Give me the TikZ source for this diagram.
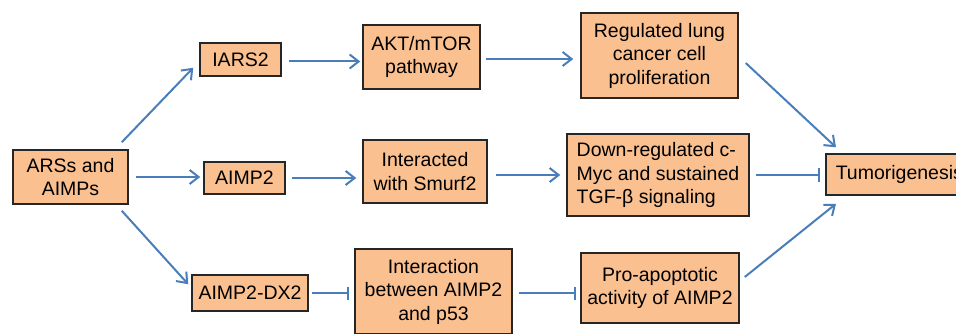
\documentclass[tikz,border=0pt]{standalone}
\usepackage{fontspec}
\setmainfont{Liberation Sans}
\usetikzlibrary{arrows.meta,calc}
\definecolor{boxfill}{HTML}{FAC090}
\definecolor{linkblue}{HTML}{4A7EBB}
\definecolor{boxline}{HTML}{262626}
\begin{document}
\begin{tikzpicture}[x=1pt,y=-1pt,
  box/.style={draw=boxline,line width=1.5pt,fill=boxfill,inner sep=0pt,align=center,font=\fontsize{19.5}{23.5}\selectfont},
  arr/.style={draw=linkblue,line width=2pt,-{Straight Barb[length=9pt,width=14pt]}},
  inh/.style={draw=linkblue,line width=2pt,-{Bar[width=13pt]}}]
\useasboundingbox (0,0) rectangle (956,334);
\clip (0,0) rectangle (956,334);
\fill[white] (0,0) rectangle (956,334);

\node[box,minimum width=115pt,minimum height=54pt] (src) at (70.5,177) {ARSs and\\AIMPs};
\node[box,minimum width=81pt,minimum height=33pt] (iars) at (240.5,59.5) {IARS2};
\node[box,minimum width=81pt,minimum height=32pt] (aimp) at (244.5,178) {AIMP2};
\node[box,minimum width=116pt,minimum height=36pt] (dx2) at (250,293) {AIMP2-DX2};
\node[box,minimum width=117pt,minimum height=64pt] (akt) at (421.5,57) {AKT/mTOR\\pathway};
\node[box,minimum width=124pt,minimum height=63pt] (smurf) at (425,171.5) {Interacted\\with Smurf2};
\node[box,minimum width=157pt,minimum height=85pt] (p53) at (433.5,291.5) {Interaction\\between AIMP2\\and p53};
\node[box,minimum width=157pt,minimum height=85pt] (reg) at (659.5,55.5) {Regulated lung\\cancer cell\\proliferation};
\node[box,minimum width=182pt,minimum height=82pt,align=left] (down) at (658,175) {Down-regulated c-\\Myc and sustained\\TGF-β signaling};
\node[box,minimum width=158pt,minimum height=70pt] (pro) at (660,288) {Pro-apoptotic\\activity of AIMP2};
\node[box,anchor=west,minimum height=41pt,inner xsep=10pt] (tumor) at (825,174.5) {Tumorigenesis};

\draw[arr] ($(src.north east)+(-7,-7)$) -- ($(iars.south west)+(-6,-9)$);
\draw[arr] ([xshift=7pt]src.east) -- ([xshift=-3pt]src.east -| aimp.west);
\draw[arr] ($(src.south east)+(-7,6)$) -- ($(dx2.north west)+(-3,10)$);
\draw[arr] ($(iars.east)+(7,2)$) -- ($(iars.east -| akt.west)+(-2,2)$);
\draw[arr] ([xshift=6pt]aimp.east) -- ([xshift=-6pt]aimp.east -| smurf.west);
\draw[inh] ([xshift=3pt]dx2.east) -- ([xshift=-5pt]dx2.east -| p53.west);
\draw[arr] ($(akt.east)+(5,2)$) -- ($(akt.east -| reg.west)+(-7,2)$);
\draw[arr] ($(smurf.east)+(8,3.5)$) -- ($(smurf.east -| down.west)+(-6,3.5)$);
\draw[inh] ($(p53.east)+(6,1.5)$) -- ($(p53.east -| pro.west)+(-4,1.5)$);
\draw[arr] ($(reg.east)+(7,7.5)$) -- ($(tumor.north west)+(11,-6)$);
\draw[inh] ([xshift=6pt]down.east) -- ([xshift=-5pt]down.east -| tumor.west);
\draw[arr] ($(pro.east)+(5,-11)$) -- ($(tumor.south west)+(11,8)$);
\end{tikzpicture}
\end{document}
